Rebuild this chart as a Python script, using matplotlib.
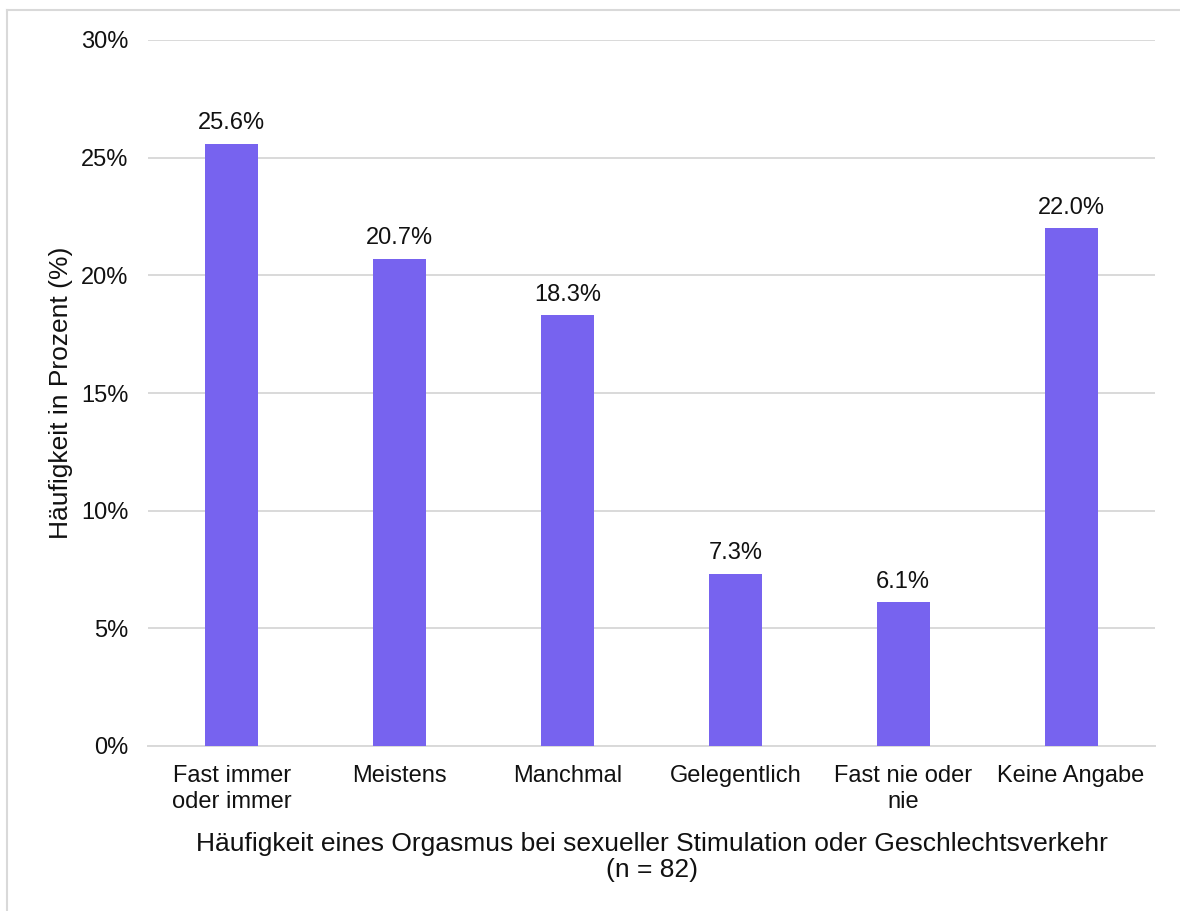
import matplotlib
matplotlib.use("Agg")
import matplotlib.pyplot as plt
from matplotlib.lines import Line2D
from matplotlib.ticker import FuncFormatter

categories = ["Fast immer\noder immer", "Meistens", "Manchmal", "Gelegentlich",
              "Fast nie oder\nnie", "Keine Angabe"]
values = [25.6, 20.7, 18.3, 7.3, 6.1, 22.0]
y_ticks = [0, 5, 10, 15, 20, 25, 30]
x_title = "Häufigkeit eines Orgasmus bei sexueller Stimulation oder Geschlechtsverkehr\n(n = 82)"
y_title = "Häufigkeit in Prozent (%)"

plt.rcParams["font.family"] = ["Liberation Sans", "DejaVu Sans"]
FS = 17
FS_TITLE = 19
BAR = "#7763EF"
GRID = "#d9d9d9"
TEXT = "#111111"

W, H = 1180, 911
fig = plt.figure(figsize=(W / 100, H / 100), dpi=100)
ax = fig.add_axes([148 / W, 1 - 746 / H, (1155 - 148) / W, (746 - 40) / H])

x = list(range(len(categories)))
ax.bar(x, values, width=0.316, color=BAR, zorder=3)
for xi, v in zip(x, values):
    ax.annotate(f"{v:.1f}%", (xi, v), xytext=(0, 7), textcoords="offset points",
                ha="center", va="bottom", fontsize=FS, color=TEXT)

ax.set_xlim(-0.5, len(categories) - 0.5)
ax.set_ylim(0, 30)
ax.set_yticks(y_ticks)
ax.yaxis.set_major_formatter(FuncFormatter(lambda v, p: f"{v:.0f}%"))
ax.set_xticks(x)
ax.set_xticklabels(categories, fontsize=FS, linespacing=1.2)
ax.tick_params(axis="y", length=0, pad=14, labelsize=FS, labelcolor=TEXT)
ax.tick_params(axis="x", length=0, pad=14, labelcolor=TEXT)
ax.grid(axis="y", color=GRID, linewidth=1.4, zorder=0)
for s in ["top", "right", "left"]:
    ax.spines[s].set_visible(False)
ax.spines["bottom"].set_color(GRID)
ax.spines["bottom"].set_linewidth(1.4)

ax.set_xlabel(x_title, fontsize=FS_TITLE, labelpad=14, linespacing=1.1, color=TEXT)
ax.set_ylabel(y_title, fontsize=FS_TITLE, labelpad=6, color=TEXT)

# frame around the chart area
fig.add_artist(Line2D([7 / W, 1.0], [1 - 10 / H, 1 - 10 / H], transform=fig.transFigure,
                      color=GRID, linewidth=1.5))
fig.add_artist(Line2D([7 / W, 7 / W], [0, 1 - 10 / H], transform=fig.transFigure,
                      color=GRID, linewidth=1.5))

fig.savefig("out.png", dpi=100, facecolor="white")
